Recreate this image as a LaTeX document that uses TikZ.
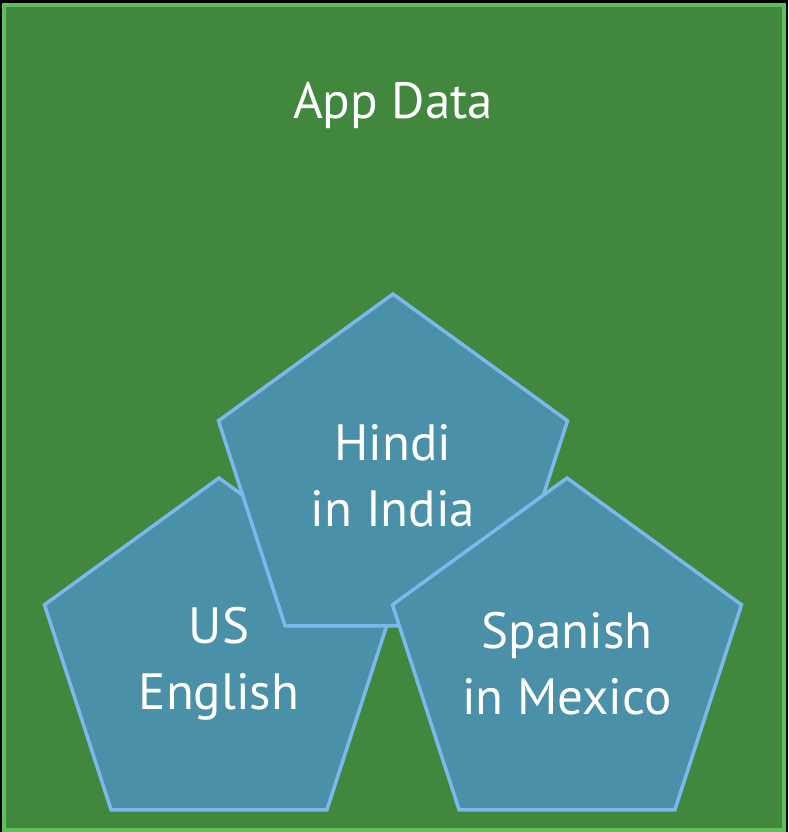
\documentclass[tikz,border=0pt]{standalone}
\usepackage{fontspec}
\setmainfont{PT Sans}
\usetikzlibrary{shapes.geometric}
\definecolor{bggreen}{HTML}{41873E}
\definecolor{frameedge}{HTML}{60BE5E}
\definecolor{pentfill}{HTML}{4A90A9}
\definecolor{pentedge}{HTML}{7DB8EC}
\begin{document}
\begin{tikzpicture}[x=1pt,y=-1pt,
  pent/.style={regular polygon, regular polygon sides=5, minimum size=367pt,
    inner sep=0pt, draw=pentedge, line width=3.5pt, fill=pentfill},
  lbl/.style={text=white, align=center, inner sep=0pt, font=\fontsize{51}{66}\selectfont},
  frame/.style={draw=frameedge, fill=bggreen, line width=4pt}]
\useasboundingbox (0,0) rectangle (788,832);
\fill[black] (0,0) rectangle (788,832);
\node[frame, inner sep=0pt, minimum width=780pt, minimum height=824pt] (box) at (394,417.5) {};
\node[lbl, anchor=base] (title) at (393,118) {App Data};
\node[pent] (us) at (219,661.5) {};
\node[lbl] (uslbl) at ([yshift=-2pt]us.center) {US\\English};
\node[pent] (hindi) at (393,477.5) {};
\node[lbl] (hindilbl) at ([yshift=2pt]hindi.center) {Hindi\\in India};
\node[pent] (spanish) at (567,661.5) {};
\node[lbl] (spanishlbl) at ([yshift=-2pt]spanish.center) {Spanish\\in Mexico};
\end{tikzpicture}
\end{document}
